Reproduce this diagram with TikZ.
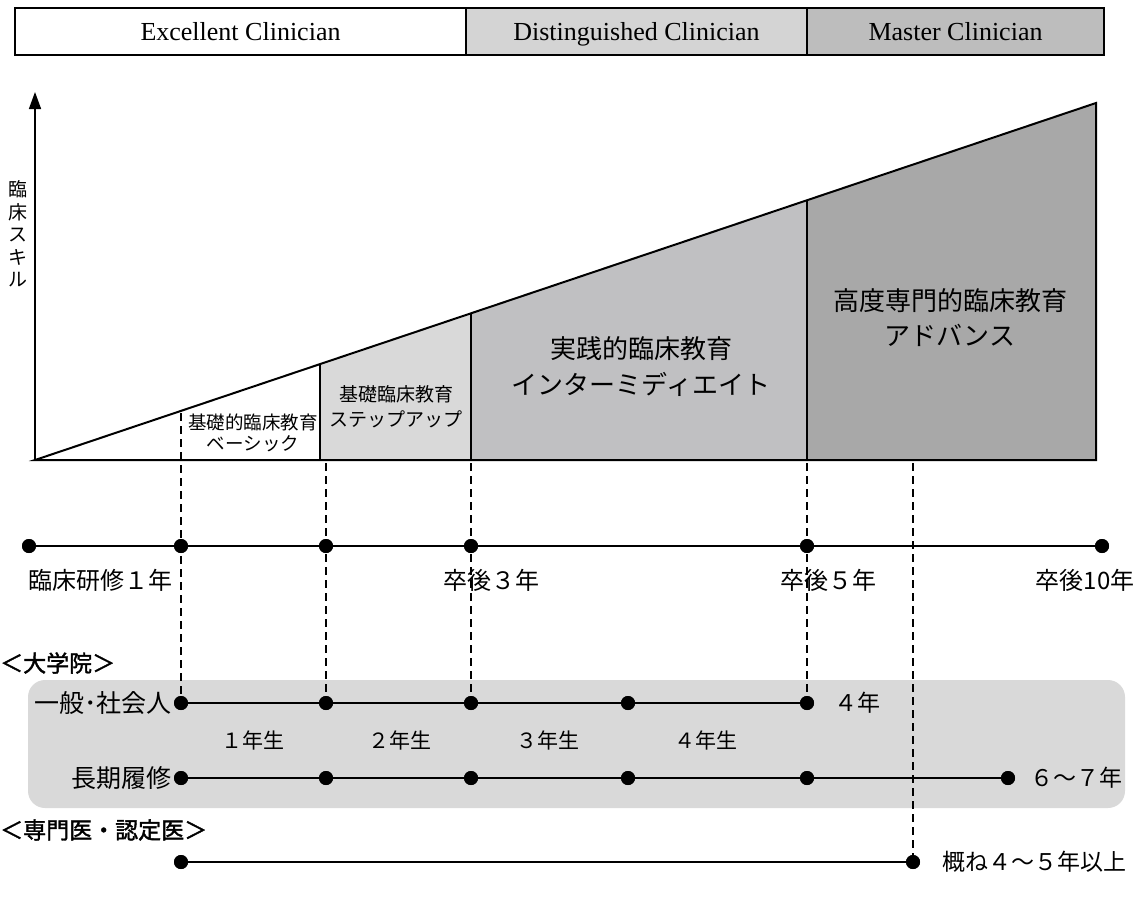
\documentclass[tikz,border=0pt]{standalone}
\usepackage{fontspec}
\newfontfamily\jp{Noto Sans CJK JP}
\newfontfamily\jpb[FakeBold=1.6]{Noto Sans CJK JP}
\newfontfamily\lat{Liberation Serif}
\usetikzlibrary{arrows.meta}
\definecolor{gTopB}{HTML}{D4D4D4}
\definecolor{gTopC}{HTML}{BDBDBD}
\definecolor{gStep}{HTML}{D9D9D9}
\definecolor{gInt}{HTML}{C0C0C2}
\definecolor{gAdv}{HTML}{A8A8A8}
\definecolor{gBox}{HTML}{D9D9D9}
\tikzset{
  barbox/.style={draw=black, line width=1.5pt, minimum height=47pt, inner sep=0pt, text height=20pt, text depth=2pt, font=\lat\fontsize{26}{30}\selectfont},
  dot/.style={circle, fill=black, minimum size=14pt, inner sep=0pt},
  tl/.style={line width=2.6pt},
  vdash/.style={line width=1.5pt, dash pattern=on 8pt off 5pt},
  jpt/.style={font=\jp\fontsize{#1}{#1}\selectfont, inner sep=0pt},
  region/.style={line width=2pt, line join=miter},
}
\begin{document}
\begin{tikzpicture}[x=1pt,y=-1pt]
\useasboundingbox (0,0) rectangle (1139,899);
% top bar
\node[barbox, fill=white, minimum width=451pt] (b1) at (240.5,31.5) {Excellent Clinician};
\node[barbox, fill=gTopB, minimum width=341pt] (b2) at (636.5,31.5) {Distinguished Clinician};
\node[barbox, fill=gTopC, minimum width=297pt] (b3) at (955.5,31.5) {Master Clinician};
% graduate box
\node[fill=gBox, rounded corners=17pt, minimum width=1097pt, minimum height=128pt, inner sep=0pt] (gbox) at (576.5,744) {};
% regions of triangle
\fill[white] (35,460) -- (320,364) -- (320,460) -- cycle;
\fill[gStep] (320,460) -- (320,364.1) -- (471,313.3) -- (471,460) -- cycle;
\fill[gInt] (471,460) -- (471,313.3) -- (807,200.2) -- (807,460) -- cycle;
\fill[gAdv] (807,460) -- (807,200.2) -- (1096,103) -- (1096,460) -- cycle;
\draw[region] (35,460) -- (1096,103) -- (1096,460) -- cycle;
\draw[region] (320,460) -- (320,364.1);
\draw[region] (471,460) -- (471,313.3);
\draw[region] (807,460) -- (807,200.2);
% y axis
\coordinate (yo) at (35,460);
\coordinate (yt) at (35,92);
\draw[line width=1.5pt, -{Triangle[length=17pt,width=12pt]}] (yo) -- (yt);
\node[jpt=19, align=center, font=\jp\fontsize{19}{22.5}\selectfont] (ylab) at (18,234) {臨\\床\\ス\\キ\\ル};
% region texts
\node[jpt=18.5, align=center, font=\jp\fontsize{18.5}{21}\selectfont] (tbas) at (253,433) {基礎的臨床教育\\ベーシック};
\node[jpt=19, align=center, font=\jp\fontsize{19}{25}\selectfont] (tstep) at (396,407) {基礎臨床教育\\ステップアップ};
\node[jpt=26, align=center, font=\jp\fontsize{26}{36}\selectfont] (tint) at (641,367) {実践的臨床教育\\インターミディエイト};
\node[jpt=26, align=center, font=\jp\fontsize{26}{35}\selectfont] (tadv) at (950,318) {高度専門的臨床教育\\アドバンス};
% dots
\node[dot] (m1) at (29,546) {};
\node[dot] (m2) at (181,546) {};
\node[dot] (m3) at (326,546) {};
\node[dot] (m4) at (471,546) {};
\node[dot] (m5) at (807,546) {};
\node[dot] (m6) at (1102,546) {};
\node[dot] (g1) at (181,703) {};
\node[dot] (g2) at (326,703) {};
\node[dot] (g3) at (471,703) {};
\node[dot] (g4) at (628,703) {};
\node[dot] (g5) at (807,703) {};
\node[dot] (l1) at (181,778) {};
\node[dot] (l2) at (326,778) {};
\node[dot] (l3) at (471,778) {};
\node[dot] (l4) at (628,778) {};
\node[dot] (l5) at (807,778) {};
\node[dot] (l6) at (1008,778) {};
\node[dot] (s1) at (181,862) {};
\node[dot] (s2) at (913,862) {};
% dashed guides
\coordinate (d1) at (181,413);
\coordinate (d2) at (326,463);
\coordinate (d3) at (471,463);
\coordinate (d4) at (807,463);
\coordinate (d5) at (913,463);
\draw[vdash] (d1) -- (g1.center);
\draw[vdash] (d2) -- (g2.center);
\draw[vdash] (d3) -- (g3.center);
\draw[vdash] (d4) -- (g5.center);
\draw[vdash] (d5) -- (s2.center);
% timelines
\draw[tl] (m1) -- (m6);
\draw[tl] (g1) -- (g5);
\draw[tl] (l1) -- (l6);
\draw[tl] (s1) -- (s2);
% redraw dots on top
\foreach \n in {m1,m2,m3,m4,m5,m6,g1,g2,g3,g4,g5,l1,l2,l3,l4,l5,l6,s1,s2}
  \fill (\n.center) circle (7pt);
% timeline labels
\node[jpt=24] (lm1) at (100,580) {臨床研修１年};
\node[jpt=24] (lm4) at (491,580) {卒後３年};
\node[jpt=24] (lm5) at (828,580) {卒後５年};
\node[jpt=24] (lm6) at (1085,580) {卒後10年};
% graduate school
\node[jpt=23, anchor=west, font=\jpb\fontsize{23}{23}\selectfont] (hgs) at (0,663) {＜大学院＞};
\node[jpt=25, anchor=east] (lg) at (172,703) {一般･社会人};
\node[jpt=25, anchor=east] (ll) at (172,778) {長期履修};
\node[jpt=23, anchor=west] (g4y) at (834,703) {４年};
\node[jpt=23, anchor=west] (l67) at (1030,778) {６～７年};
\node[jpt=21] (y1) at (253,740) {１年生};
\node[jpt=21] (y2) at (400,740) {２年生};
\node[jpt=21] (y3) at (548,740) {３年生};
\node[jpt=21] (y4) at (706,740) {４年生};
% specialists
\node[jpt=23, anchor=west, font=\jpb\fontsize{23}{23}\selectfont] (hsp) at (0,830) {＜専門医・認定医＞};
\node[jpt=23, anchor=west] (sp) at (942,862) {概ね４～５年以上};
\end{tikzpicture}
\end{document}
